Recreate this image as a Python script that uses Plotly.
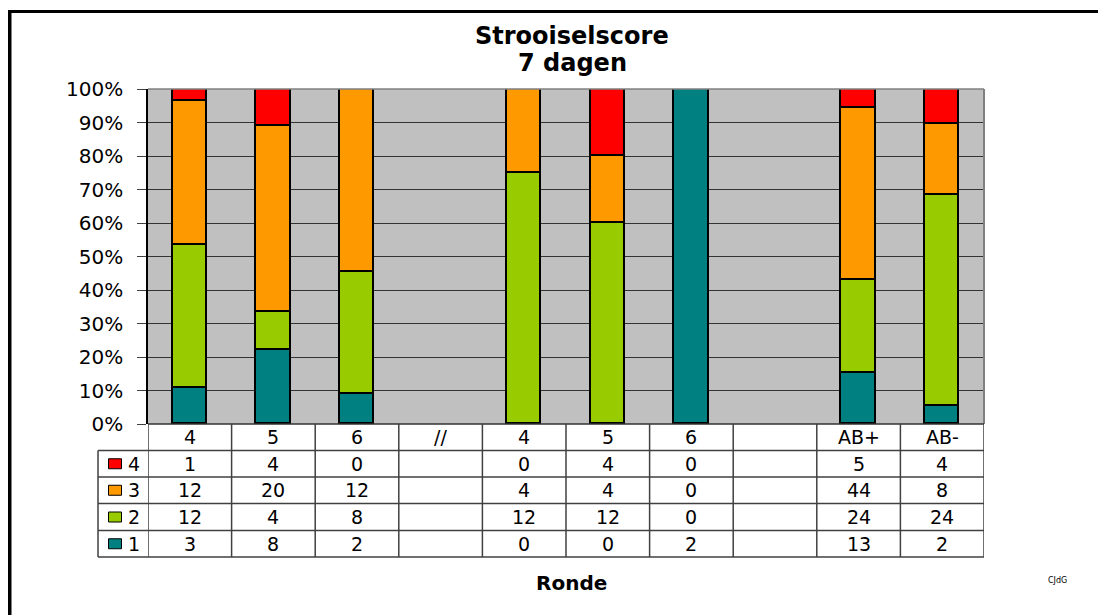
import plotly.graph_objects as go

# ---- data ----
categories = ["4", "5", "6", "//", "4", "5", "6", "", "AB+", "AB-"]
series_names = ["1", "2", "3", "4"]
score_1 = [3, 8, 2, None, 0, 0, 2, None, 13, 2]
score_2 = [12, 4, 8, None, 12, 12, 0, None, 24, 24]
score_3 = [12, 20, 12, None, 4, 4, 0, None, 44, 8]
score_4 = [1, 4, 0, None, 0, 4, 0, None, 5, 4]
series_values = [score_1, score_2, score_3, score_4]
series_colors = ["#008080", "#99CC00", "#FF9900", "#FF0000"]
y_ticks = list(range(0, 101, 10))
y_ticktext = [f"{v}%" for v in y_ticks]

W, H = 1106, 615
OFF = 8  # page body margin
PL, PR, PT, PB = 148, 984, 89, 424   # plot area in page px
FONT = "DejaVu Sans, Verdana, sans-serif"


def px(x):
    return (x - OFF) / W


def py(y):
    return 1 - (y - OFF) / H


n = len(categories)
xs = list(range(n))

fig = go.Figure()
for name, vals, col in zip(series_names, series_values, series_colors):
    fig.add_trace(go.Bar(
        x=xs, y=vals, name=name, width=0.41,
        marker=dict(color=col, line=dict(color="black", width=1.8)),
        showlegend=False,
    ))

shapes = []
# outer frame
shapes.append(dict(type="line", xref="paper", yref="paper",
                   x0=px(9.5), x1=px(9.5), y0=py(11.5), y1=py(700),
                   line=dict(color="black", width=4)))
shapes.append(dict(type="line", xref="paper", yref="paper",
                   x0=px(7.5), x1=px(1200), y0=py(11.5), y1=py(11.5),
                   line=dict(color="black", width=3)))
# plot border top/right
shapes.append(dict(type="line", xref="paper", yref="paper",
                   x0=px(PL), x1=px(PR), y0=py(PT), y1=py(PT),
                   line=dict(color="#808080", width=1.5)))
shapes.append(dict(type="line", xref="paper", yref="paper",
                   x0=px(PR), x1=px(PR), y0=py(PT), y1=py(PB),
                   line=dict(color="#808080", width=2)))

# table geometry
row_y = [424, 450.5, 477, 503.5, 530.5, 557]
tbl_left = 98
tcol = "#404040"
for i, yy in enumerate(row_y):
    x0 = PL if i == 0 else tbl_left
    shapes.append(dict(type="line", xref="paper", yref="paper",
                       x0=px(x0), x1=px(PR), y0=py(yy), y1=py(yy),
                       line=dict(color=tcol if i else "#333333", width=1.5)))
for i in range(n + 1):
    shapes.append(dict(type="line", xref="x", yref="paper",
                       x0=i - 0.5, x1=i - 0.5, y0=py(row_y[0]), y1=py(row_y[-1]),
                       line=dict(color=tcol, width=1.5)))
shapes.append(dict(type="line", xref="paper", yref="paper",
                   x0=px(tbl_left), x1=px(tbl_left), y0=py(row_y[1]), y1=py(row_y[-1]),
                   line=dict(color=tcol, width=1.5)))

annotations = []


def ann(x, y, text, size, xref="paper", xanchor="center", bold=False):
    annotations.append(dict(
        x=x, y=y, xref=xref, yref="paper", text=(f"<b>{text}</b>" if bold else text),
        showarrow=False, xanchor=xanchor, yanchor="middle",
        font=dict(family=FONT, size=size, color="black")))


for i, c in enumerate(categories):
    ann(i, py((row_y[0] + row_y[1]) / 2), c, 19, xref="x")
for r, idx in enumerate([3, 2, 1, 0]):
    yc = (row_y[r + 1] + row_y[r + 2]) / 2
    for i, v in enumerate(series_values[idx]):
        if v is None:
            continue
        ann(i, py(yc), str(v), 19, xref="x")
    shapes.append(dict(type="rect", xref="paper", yref="paper",
                       x0=px(108.5), x1=px(121.5), y0=py(yc - 5), y1=py(yc + 5),
                       fillcolor=series_colors[idx], line=dict(color="black", width=1)))
    ann(px(126), py(yc), series_names[idx], 19, xanchor="left")

ann(px(572), py(36), "Strooiselscore", 24, bold=True)
ann(px(572), py(63), "7 dagen", 24, bold=True)
ann(px(571), py(583), "Ronde", 20, bold=True)
ann(px(1057), py(580), "CJdG", 8)

fig.update_layout(
    width=W, height=H,
    margin=dict(l=0, r=0, t=0, b=0, autoexpand=False),
    paper_bgcolor="white",
    plot_bgcolor="#C0C0C0",
    barmode="stack",
    barnorm="percent",
    bargap=0,
    xaxis=dict(domain=[px(PL), px(PR)], range=[-0.5, n - 0.5], automargin=False,
               showticklabels=False, showgrid=False, zeroline=False,
               showline=False, fixedrange=True),
    yaxis=dict(domain=[py(PB), py(PT)], range=[0, 100], automargin=False,
               tickmode="array", tickvals=y_ticks, ticktext=y_ticktext,
               ticks="outside", ticklen=9, tickcolor="#404040", tickwidth=1,
               showgrid=True, gridcolor="#333333", gridwidth=1,
               zeroline=False, showline=True, linecolor="black", linewidth=1.5,
               ticklabelstandoff=10, fixedrange=True,
               tickfont=dict(family=FONT, size=20, color="black")),
    shapes=shapes,
    annotations=annotations,
)

fig.write_html("out.html")
